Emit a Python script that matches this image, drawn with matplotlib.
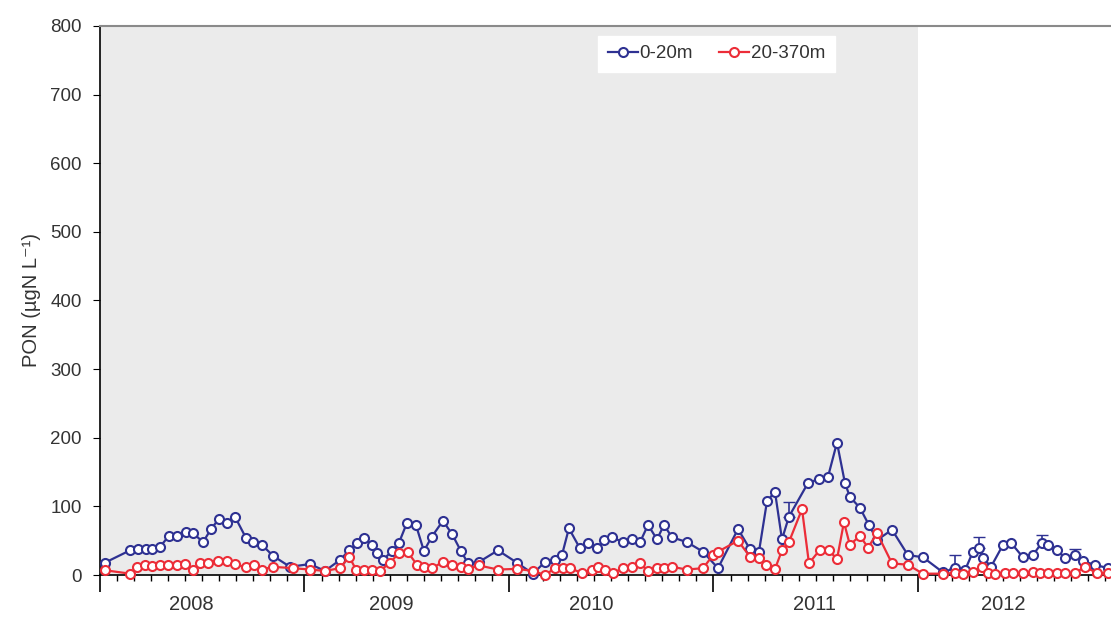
import numpy as np
import matplotlib
matplotlib.use("Agg")
import matplotlib.pyplot as plt

plt.rcParams['font.family'] = ['Liberation Sans', 'DejaVu Sans']

# Zeit in Dezimaljahren, Werte in µgN/L
blue_t = [0.024, 0.147, 0.186, 0.225, 0.254, 0.293, 0.337, 0.377, 0.421, 0.455,
          0.504, 0.543, 0.582, 0.621, 0.660, 0.714, 0.748, 0.792, 0.846, 0.929,
          1.027, 1.100, 1.174, 1.218, 1.257, 1.291, 1.330, 1.355, 1.384, 1.428,
          1.462, 1.501, 1.545, 1.584, 1.623, 1.677, 1.721, 1.765, 1.800, 1.853,
          1.946, 2.039, 2.117, 2.176, 2.225, 2.259, 2.293, 2.347, 2.386, 2.430,
          2.465, 2.504, 2.557, 2.601, 2.641, 2.680, 2.724, 2.758, 2.797, 2.870,
          2.949, 3.022, 3.120, 3.178, 3.222, 3.262, 3.301, 3.335, 3.369, 3.462,
          3.516, 3.560, 3.604, 3.643, 3.667, 3.716, 3.760, 3.800, 3.873, 3.951,
          4.024, 4.122, 4.181, 4.230, 4.269, 4.298, 4.318, 4.357, 4.416, 4.455,
          4.513, 4.562, 4.606, 4.636, 4.680, 4.719, 4.768, 4.807, 4.865, 4.929]
blue_v = [18, 36, 38, 38, 38, 41, 57, 57, 63, 61,
          48, 67, 82, 76, 85, 54, 48, 44, 28, 12,
          16, 6, 22, 36, 47, 54, 44, 32, 22, 35,
          47, 76, 73, 35, 56, 79, 60, 35, 17, 19,
          36, 18, 2, 19, 22, 29, 68, 39, 47, 39,
          51, 55, 48, 52, 48, 73, 52, 73, 55, 48,
          34, 10, 67, 38, 33, 108, 121, 52, 85, 134,
          140, 143, 193, 134, 114, 98, 73, 51, 66, 29,
          26, 4, 10, 7, 34, 39, 25, 12, 44, 47,
          26, 29, 47, 44, 36, 25, 29, 20, 15, 10]
# obere Fehlerbalken (nur einige Punkte)
blue_err = ([0] * 68 + [21] + [0] * 13 + [19, 0, 0, 17] + [0] * 6 + [11]
            + [0] * 3 + [9, 0, 0, 0])

red_t = [0.024, 0.147, 0.181, 0.220, 0.254, 0.293, 0.333, 0.377, 0.416, 0.455,
         0.489, 0.528, 0.577, 0.621, 0.660, 0.714, 0.753, 0.792, 0.846, 0.944,
         1.027, 1.100, 1.174, 1.218, 1.252, 1.291, 1.330, 1.369, 1.418, 1.462,
         1.506, 1.550, 1.584, 1.623, 1.677, 1.721, 1.765, 1.800, 1.853, 1.946,
         2.039, 2.117, 2.176, 2.225, 2.264, 2.298, 2.357, 2.406, 2.435, 2.469,
         2.509, 2.557, 2.601, 2.641, 2.680, 2.724, 2.758, 2.797, 2.870, 2.949,
         2.998, 3.022, 3.120, 3.178, 3.222, 3.257, 3.301, 3.335, 3.369, 3.433,
         3.467, 3.521, 3.565, 3.604, 3.638, 3.667, 3.716, 3.756, 3.800, 3.873,
         3.951, 4.024, 4.122, 4.181, 4.220, 4.269, 4.313, 4.342, 4.377, 4.425,
         4.465, 4.513, 4.562, 4.597, 4.636, 4.680, 4.719, 4.768, 4.817, 4.875, 4.929]
red_v = [7, 2, 12, 15, 13, 15, 14, 15, 16, 8,
         17, 18, 20, 20, 16, 11, 15, 8, 12, 10,
         8, 6, 10, 27, 8, 8, 8, 6, 18, 32,
         33, 15, 12, 10, 19, 14, 11, 9, 14, 8,
         9, 6, 0, 10, 10, 10, 3, 8, 12, 8,
         3, 10, 12, 17, 6, 10, 10, 12, 8, 10,
         29, 34, 50, 27, 25, 15, 9, 36, 48, 96,
         17, 37, 36, 23, 77, 44, 57, 40, 61, 17,
         15, 2, 2, 3, 2, 5, 12, 3, 2, 3,
         3, 3, 4, 3, 3, 3, 3, 3, 12, 3, 3]

years = [2008, 2009, 2010, 2011, 2012]
year_label_pos = [0.445, 1.423, 2.401, 3.496, 4.416]
base = 2008
shade_end = 2012

blue_x = base + np.array(blue_t)
red_x = base + np.array(red_t)
blue_c = '#2e3192'
red_c = '#ec2d38'
txt_c = '#333333'

fig = plt.figure(figsize=(11.11, 6.17), dpi=100)
ax = fig.add_axes([0.090, 0.068, 0.910, 0.890])

ax.axvspan(base, shade_end, color='#ebebeb', zorder=0, lw=0)

err = np.array(blue_err)
m = err > 0
ax.errorbar(blue_x[m], np.array(blue_v)[m], yerr=[np.zeros(m.sum()), err[m]],
            fmt='none', ecolor=blue_c, elinewidth=1.2, capsize=4, zorder=2)
ax.plot(blue_x, blue_v, color=blue_c, lw=1.6, marker='o', ms=6.5, mfc='white',
        mec=blue_c, mew=1.5, label='0-20m', zorder=3, clip_on=False)
ax.plot(red_x, red_v, color=red_c, lw=1.6, marker='o', ms=6.5, mfc='white',
        mec=red_c, mew=1.5, label='20-370m', zorder=4, clip_on=False)

ax.set_ylim(0, 800)
ax.set_xlim(base, base + 4.944)
ax.set_yticks(range(0, 801, 100))
ax.tick_params(axis='y', direction='out', length=5, labelsize=13.5, pad=8,
               labelcolor=txt_c)

ax.set_xticks(years)
ax.set_xticklabels([])
ax.set_xticks(np.arange(base, base + 5, 1 / 12), minor=True)
ax.tick_params(axis='x', which='major', direction='out', length=12, width=1.2)
ax.tick_params(axis='x', which='minor', direction='out', length=4.5, width=1)
for y, p in zip(years, year_label_pos):
    ax.text(base + p, -0.053, str(y), transform=ax.get_xaxis_transform(),
            ha='center', va='center', fontsize=14.5, color=txt_c)

ax.spines['right'].set_visible(False)
ax.spines['top'].set_color('#8a8a8a')
ax.spines['top'].set_linewidth(1.5)
ax.spines['left'].set_linewidth(1.2)
ax.spines['bottom'].set_linewidth(1.2)

ax.set_ylabel('PON (µgN L⁻¹)', fontsize=14.5, labelpad=7, color=txt_c)

leg = ax.legend(loc='center', bbox_to_anchor=(0.610, 0.949), ncol=2,
                frameon=True, fontsize=13.5, handlelength=1.6, handletextpad=0.1,
                columnspacing=1.4, borderpad=0.5, fancybox=False)
for t in leg.get_texts():
    t.set_color(txt_c)
leg.get_frame().set_facecolor('white')
leg.get_frame().set_edgecolor('white')
leg.get_frame().set_alpha(1)

fig.savefig('out.png', dpi=100)
